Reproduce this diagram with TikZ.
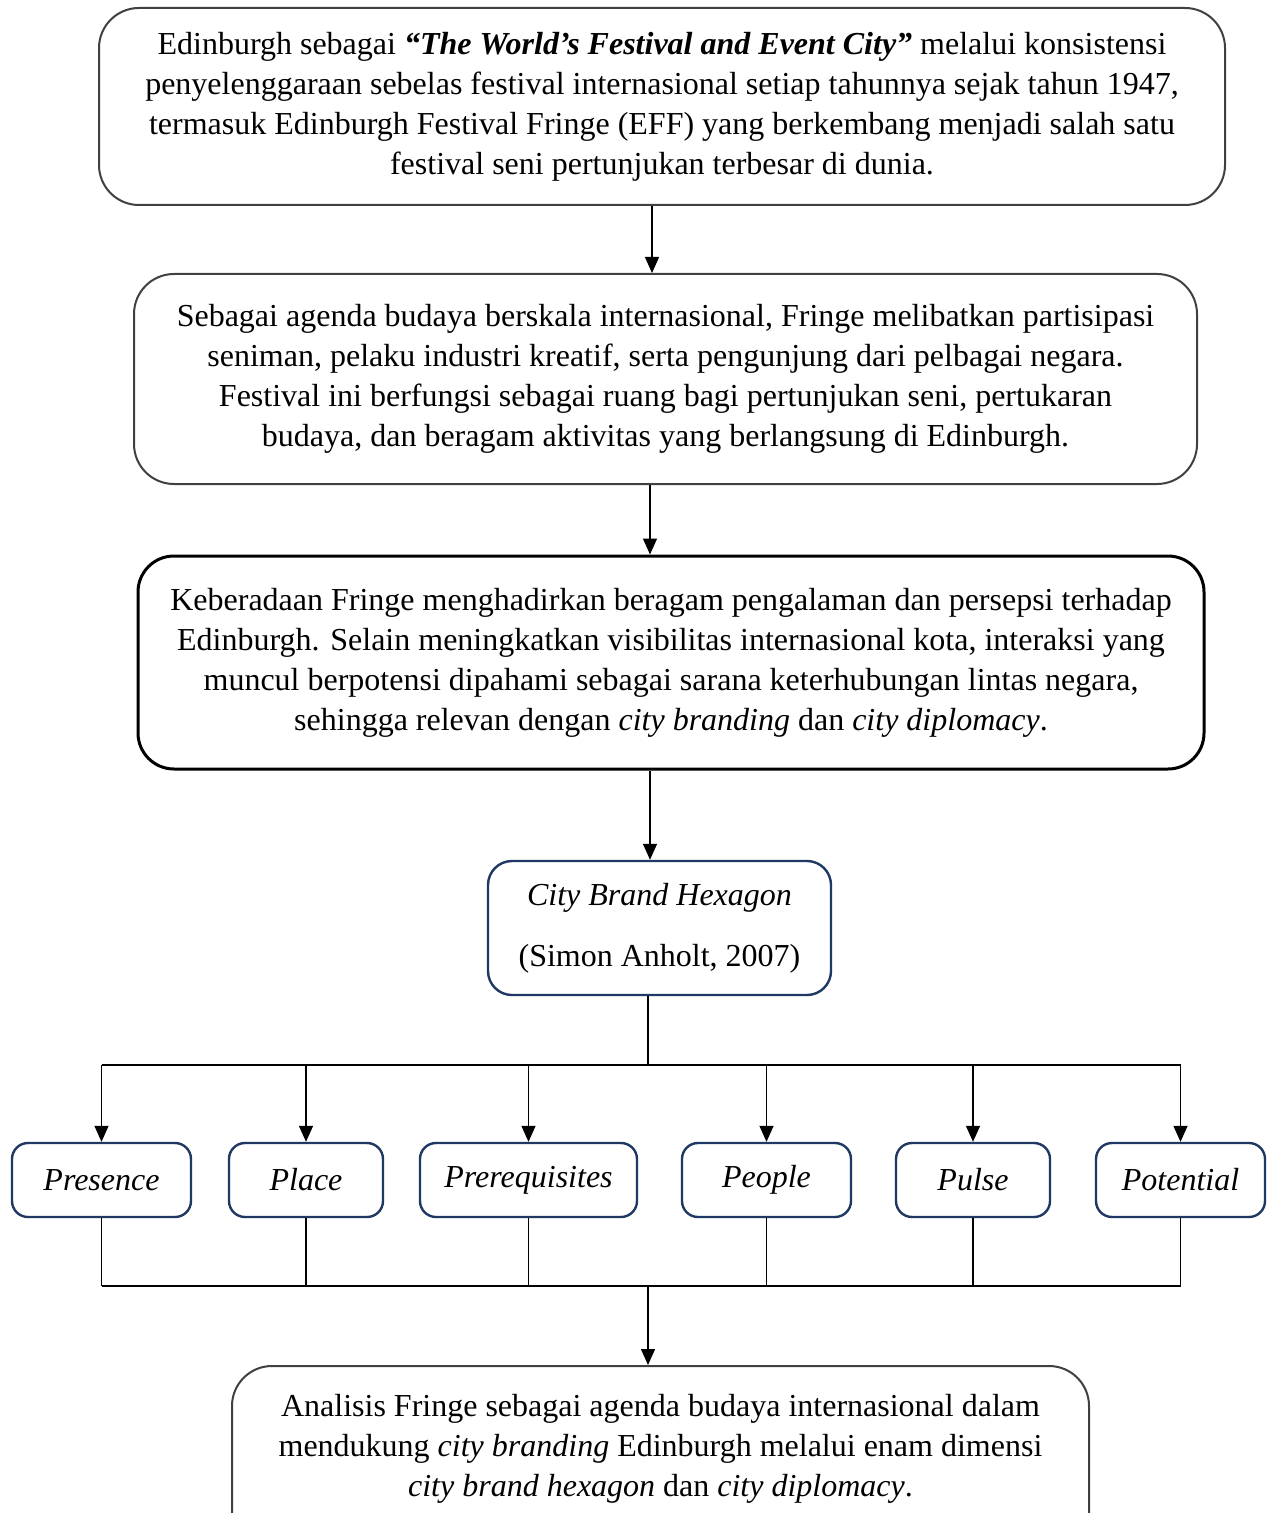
\documentclass[tikz,border=0pt]{standalone}
\usepackage{fontspec}
\setmainfont{Liberation Serif}
\usetikzlibrary{arrows.meta}
\definecolor{navy}{HTML}{1F3864}
\definecolor{graybd}{HTML}{404040}
\begin{document}
\begin{tikzpicture}[x=0.5pt,y=-0.5pt,
  every node/.style={font=\fontsize{16}{20}\selectfont, align=center, inner sep=0pt},
  graybox/.style={draw=graybd, line width=1pt, rounded corners=20pt},
  blackbox/.style={draw=black, line width=1.5pt, rounded corners=18pt},
  navybox/.style={draw=navy, line width=1.2pt, rounded corners=12pt},
  dimbox/.style={draw=navy, line width=1.2pt, rounded corners=8pt, minimum height=37pt, font=\fontsize{16}{20}\selectfont\itshape},
  conn/.style={draw=black, line width=0.7pt},
  arr/.style={conn, -{Triangle[length=8pt,width=7pt]}}]
\useasboundingbox (0,0) rectangle (1272,1513);
\fill[white] (0,0) rectangle (1272,1513);

\node[graybox, minimum width=563pt, minimum height=98.5pt] (b1) at (662,106.5)
 {Edinburgh sebagai \textbf{\textit{“The World’s Festival and Event City”}} melalui konsistensi\\
  penyelenggaraan sebelas festival internasional setiap tahunnya sejak tahun 1947,\\
  termasuk Edinburgh Festival Fringe (EFF) yang berkembang menjadi salah satu\\
  festival seni pertunjukan terbesar di dunia.};

\node[graybox, minimum width=531.5pt, minimum height=105pt] (b2) at (665.5,379)
 {Sebagai agenda budaya berskala internasional, Fringe melibatkan partisipasi\\
  seniman, pelaku industri kreatif, serta pengunjung dari pelbagai negara.\\
  Festival ini berfungsi sebagai ruang bagi pertunjukan seni, pertukaran\\
  budaya, dan beragam aktivitas yang berlangsung di Edinburgh.};

\node[blackbox, minimum width=533pt, minimum height=106.5pt] (b3) at (671,662.5)
 {Keberadaan Fringe menghadirkan beragam pengalaman dan persepsi terhadap\\
  Edinburgh. Selain meningkatkan visibilitas internasional kota, interaksi yang\\
  muncul berpotensi dipahami sebagai sarana keterhubungan lintas negara,\\
  sehingga relevan dengan \textit{city branding} dan \textit{city diplomacy}.};

\node[navybox, minimum width=171.5pt, minimum height=67pt] (hex) at (659.5,928)
 {\textit{City Brand Hexagon}\\[10.5pt] (Simon Anholt, 2007)};

\node[dimbox, minimum width=89.5pt] (d1) at (101.5,1180) {Presence};
\node[dimbox, minimum width=77pt] (d2) at (306,1180) {Place};
\node[dimbox, minimum width=108.5pt] (d3) at (528.5,1180) {Prerequisites};
\node[dimbox, minimum width=84.5pt] (d4) at (766.5,1180) {People};
\node[dimbox, minimum width=77pt] (d5) at (973,1180) {Pulse};
\node[dimbox, minimum width=84.5pt] (d6) at (1180.5,1180) {Potential};

\node[graybox, anchor=north, minimum width=428.5pt, minimum height=119pt] (fin) at (660.5,1365)
 {Analisis Fringe sebagai agenda budaya internasional dalam\\
  mendukung \textit{city branding} Edinburgh melalui enam dimensi\\
  \textit{city brand hexagon} dan \textit{city diplomacy}.\\[20pt]\mbox{}};

\draw[arr] (b1.south -| 652,0) -- (b2.north -| 652,0);
\draw[arr] (b2.south -| 650,0) -- (b3.north -| 650,0);
\draw[arr] (b3.south -| 650,0) -- (hex.north -| 650,0);

\coordinate (split) at (648,1065);
\draw[conn] (hex.south -| 648,0) -- (split);
\draw[conn] (split -| d1.north) -- (split -| d6.north);
\foreach \d in {d1,d2,d3,d4,d5,d6} {
  \draw[arr] (split -| \d.north) -- (\d.north);
}

\coordinate (merge) at (648,1286);
\foreach \d in {d1,d2,d3,d4,d5,d6} {
  \draw[conn] (\d.south) -- (merge -| \d.south);
}
\draw[conn] (merge -| d1.south) -- (merge -| d6.south);
\draw[arr] (merge) -- (fin.north -| merge);
\end{tikzpicture}
\end{document}
